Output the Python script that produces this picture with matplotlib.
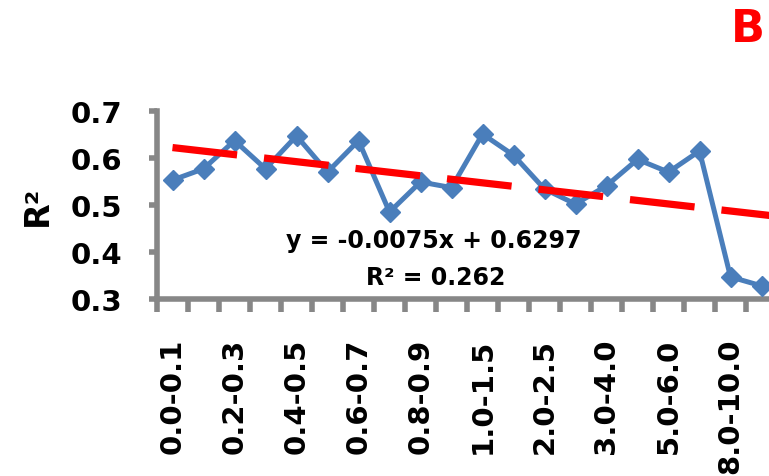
import numpy as np
import matplotlib
matplotlib.use("Agg")
import matplotlib.pyplot as plt

# size-class bins (x categories) and R2 values per bin
bins = ["0.0-0.1", "0.1-0.2", "0.2-0.3", "0.3-0.4", "0.4-0.5", "0.5-0.6",
        "0.6-0.7", "0.7-0.8", "0.8-0.9", "0.9-1.0", "1.0-1.5", "1.5-2.0",
        "2.0-2.5", "2.5-3.0", "3.0-4.0", "4.0-5.0", "5.0-6.0", "6.0-8.0",
        "8.0-10.0", ">10.0"]
r2 = [0.553, 0.577, 0.637, 0.577, 0.647, 0.570, 0.637, 0.485, 0.549, 0.537,
      0.651, 0.606, 0.534, 0.502, 0.541, 0.597, 0.570, 0.615, 0.347, 0.328]

# linear trend reported in the chart (x = 1..n)
slope = -0.0075
intercept = 0.6297
r2_trend = 0.262

yticks = [0.3, 0.4, 0.5, 0.6, 0.7]

plt.rcParams['font.family'] = ['DejaVu Sans']

fig = plt.figure(figsize=(7.69, 4.77), dpi=100)
ax = fig.add_axes([157 / 769, 177 / 477, 620 / 769, 188 / 477])

x = np.arange(len(r2))
blue = "#4A7EBB"
gray = "#878787"

# trend line, long dashes, drawn over the data line
tx = np.array([0, len(r2) - 0.5])
trend, = ax.plot(tx, slope * (tx + 1) + intercept, color="red", lw=5.2,
                 dash_capstyle="butt", zorder=4)
trend.set_dashes([9.0, 3.75])

ax.plot(x, r2, color=blue, lw=3.6, marker="D", ms=10, mfc=blue, mec=blue,
        zorder=3, clip_on=False)

ax.set_xlim(-0.5, len(r2) - 0.5)
ax.set_ylim(0.3, 0.7)

for s in ["top", "right"]:
    ax.spines[s].set_visible(False)
for s in ["left", "bottom"]:
    ax.spines[s].set_color(gray)
    ax.spines[s].set_linewidth(4)

ax.set_yticks(yticks)
ax.set_yticklabels([f"{v:.1f}" for v in yticks])
ax.tick_params(axis="y", direction="out", length=6, width=4, color=gray,
               pad=19, labelsize=21)

# category labels at centres (every other one), tick marks between categories
ax.set_xticks(x)
ax.set_xticklabels([b if i % 2 == 0 else "" for i, b in enumerate(bins)],
                   rotation=90)
ax.tick_params(axis="x", which="major", length=0, pad=28, labelsize=21)
ax.set_xticks(np.arange(-0.5, len(r2), 1), minor=True)
ax.tick_params(axis="x", which="minor", direction="out", length=9, width=4,
               color=gray)

for lab in ax.get_xticklabels() + ax.get_yticklabels():
    lab.set_fontweight("bold")

ax.set_ylabel("R²", fontsize=24, fontweight="bold", labelpad=12)

ax.text(8.42, 0.4255, f"y = {slope}x + {intercept}", ha="center",
        va="center", fontsize=17, fontweight="bold")
ax.text(8.5, 0.347, f"R² = {r2_trend}", ha="center", va="center",
        fontsize=17, fontweight="bold")

fig.text(748 / 769, 1 - 30 / 477, "B", color="red", fontsize=32,
         fontweight="bold", ha="center", va="center")

fig.savefig("out.png", dpi=100, facecolor="white")
